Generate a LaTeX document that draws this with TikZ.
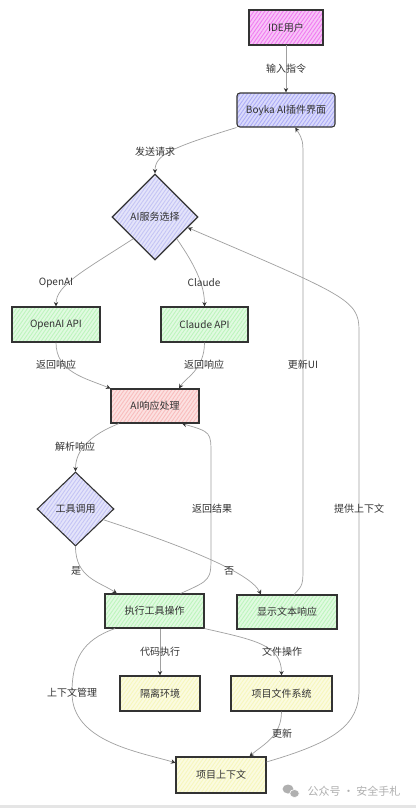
\documentclass[tikz,border=0pt]{standalone}
\usepackage{fontspec}
\setmainfont{Noto Sans CJK SC}
\usetikzlibrary{shapes.geometric,patterns.meta,arrows.meta}
\definecolor{cmag}{HTML}{F07CF0}
\definecolor{cblue}{HTML}{ADADF7}
\definecolor{clav}{HTML}{C4C4F5}
\definecolor{cgreen}{HTML}{BDF5BD}
\definecolor{cpink}{HTML}{F9BDBD}
\definecolor{cyel}{HTML}{F7F7BD}
\definecolor{cedge}{HTML}{A0A0A0}
\definecolor{cdark}{HTML}{333333}
\definecolor{cwm}{HTML}{B0B0B0}
\tikzset{
  fillhatch/.style={preaction={fill=#1!45}, pattern={Lines[angle=55,distance=3pt,line width=0.9pt]}, pattern color=#1},
  box/.style={draw=cdark, line width=1.1pt, fillhatch=#1, inner sep=2pt, text=cdark, font=\fontsize{10}{12}\selectfont},
  dia/.style={diamond, draw=cdark, line width=1.1pt, fillhatch=#1, inner sep=0pt, text=cdark, font=\fontsize{10}{12}\selectfont},
  lbl/.style={text=cdark, font=\fontsize{10}{12}\selectfont, inner sep=1pt},
  e/.style={draw=cedge, line width=0.7pt, -{Stealth[length=4.5pt,width=4.5pt,color=cdark]}},
}
\begin{document}
\begin{tikzpicture}[x=1pt,y=-1pt]
\useasboundingbox (0,0) rectangle (416,808);
\fill[white] (0,0) rectangle (416,808);
\fill[gray!20] (0,805) rectangle (416,808);

% nodes
\node[box=cmag, minimum width=74pt, minimum height=35pt] (ide) at (286,27.5) {IDE用户};
\node[box=cblue, rounded corners=3pt, minimum width=98pt, minimum height=34pt] (ui) at (286,110) {Boyka AI插件界面};
\node[dia=clav, minimum width=86pt, minimum height=86pt] (sel) at (155,217) {AI服务选择};
\node[box=cgreen, minimum width=88pt, minimum height=35pt] (oa) at (56,324.5) {OpenAI API};
\node[box=cgreen, minimum width=87pt, minimum height=35pt] (cl) at (204.5,324.5) {Claude API};
\node[box=cpink, minimum width=88pt, minimum height=34pt] (proc) at (155,406) {AI响应处理};
\node[dia=clav, minimum width=77pt, minimum height=74pt] (tool) at (75.5,509) {工具调用};
\node[box=cgreen, minimum width=99pt, minimum height=34pt] (exec) at (154.5,611) {执行工具操作};
\node[box=cgreen, minimum width=100pt, minimum height=34pt] (show) at (287,612) {显示文本响应};
\node[box=cyel, minimum width=80pt, minimum height=35pt] (iso) at (160,693.5) {隔离环境};
\node[box=cyel, minimum width=101pt, minimum height=35pt] (fs) at (281.5,693.5) {项目文件系统};
\node[box=cyel, minimum width=90pt, minimum height=36pt] (ctx) at (221,775) {项目上下文};

% edges
\draw[e] (ide) -- (ui);
\draw[e] (ui.south west) .. controls (170,148) and (155,155) .. (sel.north);
\draw[e] (sel.south west) .. controls (85,270) and (56,285) .. (oa.north);
\draw[e] (sel.south east) .. controls (195,265) and (204.5,285) .. (cl.north);
\draw[e] (oa.south) .. controls (56,372) and (85,378) .. (proc.north west);
\draw[e] (cl.south) .. controls (204.5,370) and (185,378) .. (proc.36.5);
\draw[e] (proc.206) .. controls (90,435) and (75.5,450) .. (tool.north);
\draw[e] (tool.south) .. controls (75.5,578) and (100,582) .. (exec.155);
\draw[e] (tool.-21) .. controls (180,545) and (250,572) .. (show.146);
\draw[e] (exec.34) .. controls (211,580) .. (211,555) -- (211,455) .. controls (211,432) .. (proc.-33);
\draw[e] (show.68) .. controls (303,585) .. (303,565) -- (303,160) .. controls (303,140) .. (ui.-62);
\draw[e] (ctx.16) .. controls (335,742) and (359,725) .. (359,690) -- (359,330) .. controls (359,300) and (345,295) .. (sel.-18);
\draw[e] (exec.south -| iso.north) -- (iso.north);
\draw[e] (exec.south east) .. controls (255,640) and (281.5,645) .. (fs.north);
\draw[e] (exec.204) .. controls (82,640) and (72,660) .. (72,693) .. controls (72,742) and (140,752) .. (ctx.165);
\draw[e] (fs.south) .. controls (281.5,737) and (262,745) .. (ctx.33);

% labels
\node[lbl] (l1) at (286,69) {输入指令};
\node[lbl] (l2) at (155,152) {发送请求};
\node[lbl] (l3) at (56,283) {OpenAI};
\node[lbl] (l4) at (204,283) {Claude};
\node[lbl] (l5) at (56,365) {返回响应};
\node[lbl] (l6) at (204,365) {返回响应};
\node[lbl] (l7) at (303,365) {更新UI};
\node[lbl] (l8) at (75,447) {解析响应};
\node[lbl] (l9) at (212,509) {返回结果};
\node[lbl] (l10) at (359,509) {提供上下文};
\node[lbl] (l11) at (76,571) {是};
\node[lbl] (l12) at (229,571) {否};
\node[lbl] (l13) at (160,652) {代码执行};
\node[lbl] (l14) at (282,652) {文件操作};
\node[lbl] (l15) at (72,693) {上下文管理};
\node[lbl] (l16) at (282,734) {更新};

% watermark
\fill[cwm] (288,789) ellipse (5.5pt and 4.5pt);
\fill[cwm] (294.5,793.5) ellipse (4.8pt and 4pt);
\draw[white, line width=0.6pt] (294.5,793.5) ellipse (4.8pt and 4pt);
\node[text=cwm, font=\fontsize{11}{13}\selectfont, inner sep=0pt] (wm) at (354,791) {公众号 · 安全手札};
\end{tikzpicture}
\end{document}
